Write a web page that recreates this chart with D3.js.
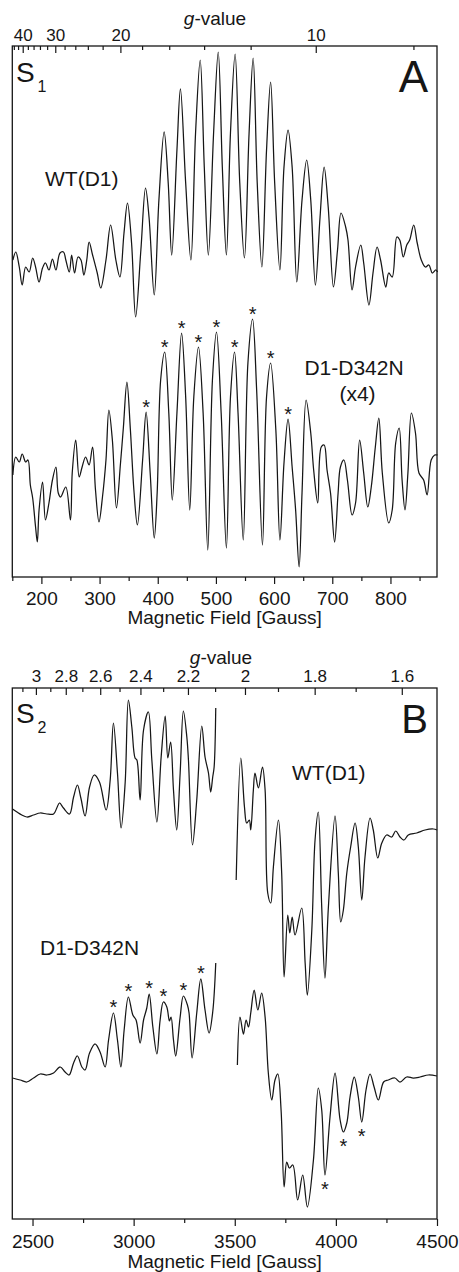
<!DOCTYPE html>
<html>
<head>
<meta charset="utf-8">
<script src="https://cdn.jsdelivr.net/npm/d3@7"></script>
<style>
  body { margin: 0; background: #fff; }
  svg { display: block; font-family: "Liberation Sans", Arial, Helvetica, sans-serif; }
</style>
</head>
<body>
<svg id="chart" width="459" height="1272"></svg>
<script>
// ---- Panel A (S1 state, low field) : [field (G), signal (a.u.)]
const wtA = [
    [151, 7], [156, 15], [162, 0], [167, -18], [173, 0], [179, -5], [185, 9], [190, 0], [196, -15], [202, -1],
    [207, 4], [213, -3], [219, 8], [225, -3], [232, 14], [238, 15], [242, 7], [248, -5], [252, 12], [257, -6],
    [263, 10], [268, 7], [273, -8], [278, 7], [282, 25], [288, 12], [296, -6], [302, -21], [311, 7], [319, 42],
    [328, 7], [335, -10], [342, 34], [348, 64], [355, 24], [362, -50], [371, 17], [379, 79], [385, 50], [394, -28],
    [402, 67], [411, 135], [418, 84], [424, 12], [433, 117], [439, 178], [448, 84], [457, 7], [465, 134], [473, 207],
    [480, 100], [487, 12], [496, 134], [504, 215], [511, 100], [518, 12], [525, 134], [533, 213], [541, 84], [549, 9],
    [557, 134], [564, 209], [571, 84], [579, 0], [587, 117], [594, 185], [601, 84], [610, -3], [617, 100], [624, 137],
    [631, 100], [639, -15], [648, 67], [656, 107], [663, 67], [671, -18], [679, 50], [686, 100], [693, 60], [702, -20],
    [709, 17], [715, 54], [723, 40], [727, 27], [734, -23], [740, 0], [749, 22], [754, 4], [763, -38], [770, -6],
    [777, 20], [783, 7], [792, -20], [797, -6], [803, -10], [811, 30], [816, 27], [822, 10], [828, 22], [833, 27],
    [840, 42], [846, 24], [853, 7], [860, 0], [866, 2], [872, -6], [878, -3], [881, -5]
];

const mutA = [
    [151, -5], [156, 13], [162, 8], [167, 16], [173, 8], [177, 10], [181, -15], [185, -28], [190, -57], [193, -72],
    [196, -40], [202, -12], [207, -50], [213, -33], [219, -10], [225, 3], [229, -23], [233, -27], [242, -17], [250, -50],
    [253, -3], [259, 30], [265, -7], [270, 3], [276, 13], [282, 5], [288, 23], [293, -20], [299, -52], [305, -27],
    [311, 10], [316, 60], [322, 30], [329, -38], [336, 7], [341, 43], [347, 88], [353, 40], [359, -20], [365, -55],
    [374, 10], [380, 58], [387, -3], [394, -68], [399, -23], [405, 90], [412, 118], [419, 57], [425, -30], [433, 57],
    [441, 137], [448, 73], [455, -40], [462, 73], [470, 123], [478, 57], [486, -80], [494, 90], [501, 138], [509, 57],
    [518, -78], [525, 73], [532, 118], [538, 57], [547, -70], [555, 107], [563, 151], [570, 80], [580, -75], [587, 73],
    [594, 107], [603, 40], [610, -70], [617, 7], [624, 51], [631, 3], [637, -40], [643, -97], [648, -23], [655, 70],
    [663, 37], [668, 0], [675, -33], [681, 23], [686, 25], [691, 0], [697, -23], [704, -72], [710, -23], [714, 3],
    [720, 10], [726, -10], [734, -45], [740, -33], [747, 30], [754, -3], [761, -37], [767, -17], [774, 23], [780, 52],
    [786, -3], [797, -53], [803, -40], [809, 27], [815, 42], [820, -10], [825, -40], [830, -3], [836, 57], [843, 37],
    [849, -3], [857, -10], [863, -25], [870, 10], [876, 15], [881, 15]
];

const starsA = [380, 412, 441, 470, 501, 532, 563, 594, 624];

// ---- Panel B (S2 state, g~2 region); each trace is split around the removed Y_D* signal
const wtBLow = [
    [2401, 6], [2423, 3], [2447, 0], [2472, -2], [2505, 0], [2538, 2], [2571, 1], [2604, 1], [2620, 7], [2633, 12],
    [2653, 7], [2683, 1], [2703, 18], [2722, 30], [2739, 17], [2760, -1], [2782, 28], [2805, 40], [2831, 33], [2864, 5],
    [2884, 35], [2900, 92], [2920, 42], [2938, -13], [2958, 32], [2974, 115], [2991, 88], [3007, 57], [3016, 55], [3032, 15],
    [3049, 85], [3073, 103], [3090, 55], [3115, -7], [3136, 58], [3156, 99], [3169, 57], [3183, 73], [3197, 25], [3213, -15],
    [3230, 42], [3246, 104], [3263, 78], [3271, 55], [3291, -30], [3312, 15], [3337, 89], [3353, 58], [3370, 42], [3381, 23],
    [3391, 38], [3398, 48], [3406, 107]
];

const wtBHigh = [
    [3507, -65], [3530, 57], [3548, 8], [3559, -8], [3572, -5], [3579, -15], [3592, 25], [3600, 42], [3617, 27], [3637, 48],
    [3650, 25], [3663, -78], [3678, -88], [3691, -52], [3716, -5], [3732, -58], [3744, -162], [3762, -100], [3772, -118], [3784, -102],
    [3798, -120], [3831, -93], [3848, -148], [3859, -180], [3881, -115], [3897, -25], [3913, 3], [3930, -92], [3946, -163], [3963, -92],
    [3996, -1], [4012, -58], [4024, -107], [4037, -95], [4054, -58], [4073, -32], [4095, -8], [4111, -32], [4128, -85], [4144, -42],
    [4169, -3], [4185, -15], [4207, -43], [4227, -28], [4251, -20], [4276, -22], [4296, -16], [4317, -22], [4337, -25], [4358, -20],
    [4400, -18], [4441, -15], [4482, -14], [4500, -15]
];

const mutBLow = [
    [2401, 2], [2439, 0], [2472, -2], [2505, 2], [2538, 6], [2571, 5], [2604, 7], [2637, 13], [2661, 8], [2681, 5],
    [2703, 17], [2722, 24], [2744, 13], [2760, 10], [2782, 27], [2810, 36], [2834, 28], [2859, 13], [2876, 40], [2900, 67],
    [2920, 40], [2937, 13], [2953, 50], [2974, 83], [2996, 65], [3012, 60], [3032, 37], [3049, 60], [3065, 72], [3077, 86],
    [3095, 53], [3115, 26], [3131, 60], [3147, 78], [3164, 73], [3177, 59], [3185, 63], [3197, 40], [3208, 24], [3230, 63],
    [3246, 84], [3266, 75], [3274, 67], [3289, 22], [3312, 67], [3332, 101], [3353, 70], [3373, 47], [3391, 68], [3406, 117]
];

const mutBHigh = [
    [3513, 15], [3526, 63], [3543, 46], [3556, 60], [3568, 53], [3579, 67], [3596, 90], [3614, 70], [3633, 87], [3650, 63],
    [3666, 7], [3683, -20], [3699, 0], [3713, 6], [3729, -30], [3744, -107], [3757, -82], [3770, -88], [3787, -85], [3811, -120],
    [3836, -95], [3859, -127], [3889, -80], [3913, -8], [3930, -30], [3946, -95], [3971, -37], [3996, 7], [4021, -40], [4037, -52],
    [4054, -43], [4070, -17], [4091, 3], [4111, -17], [4128, -42], [4149, -10], [4169, 6], [4189, -7], [4210, -20], [4236, -2],
    [4259, 0], [4292, 2], [4317, -2], [4350, 3], [4383, 2], [4416, 3], [4457, 5], [4500, 4]
];

const starsBUp = [2900, 2974, 3077, 3147, 3246, 3332];
const starsBDown = [3946, 4037, 4128];

// ---- Axis ticks
const fieldMajorA = [200, 300, 400, 500, 600, 700, 800];
const fieldMinorA = [150, 250, 350, 450, 550, 650, 750, 850];
const gMajorA = [40, 30, 20, 10];
const gMinorA = [44, 42, 38, 36, 34, 32, 28, 26, 24, 22, 18, 16, 14, 12, 8];

const fieldMajorB = [2500, 3000, 3500, 4000, 4500];
const fieldMinorB = [2750, 3250, 3750, 4250];
const gMajorB = [3, 2.8, 2.6, 2.4, 2.2, 2, 1.8, 1.6];
const gMinorB = [3.1, 2.9, 2.7, 2.5, 2.3, 2.1, 1.9, 1.7];

const ink = "#161616";
const svg = d3.select("#chart");

function drawPanel(p) {
    const x = d3.scaleLinear().domain(p.xDomain).range([12.3, 437]);
    const y = d3.scaleLinear().domain([0, p.bottom - p.top]).range([p.bottom, p.top]);
    const root = svg.append("g");

    const styleAxis = (g, fs) => {
        g.select(".domain").remove();
        g.selectAll("line").attr("stroke", ink).attr("stroke-width", 1.2);
        g.selectAll("text").attr("fill", ink).style("font-size", fs + "px").attr("font-family", null);
    };

    // bottom field axis
    const bottomAxis = root.append("g").attr("transform", `translate(0,${p.bottom})`);
    bottomAxis.append("g").call(d3.axisBottom(x).tickValues(p.fieldMinor).tickSize(4).tickFormat(""))
        .call(g => styleAxis(g, 19));
    bottomAxis.append("g").call(d3.axisBottom(x).tickValues(p.fieldMajor).tickSize(7).tickPadding(p.bottomPad)
        .tickFormat(d3.format("d")))
        .call(g => styleAxis(g, 19));

    // top g-value axis, linear in 1/g
    const gScale = d3.scaleLinear().domain([0, 1]).range([x(p.gCal.b), x(p.gCal.b + p.gCal.k)]);
    const topAxis = root.append("g").attr("transform", `translate(0,${p.top})`);
    topAxis.append("g").call(d3.axisTop(gScale).tickValues(p.gMinor.map(g => 1 / g)).tickSize(-4).tickFormat(""))
        .call(g => styleAxis(g, 17));
    topAxis.append("g").call(d3.axisTop(gScale).tickValues(p.gMajor.map(g => 1 / g)).tickSize(-7).tickPadding(p.topPad)
        .tickFormat(v => String(+(1 / v).toFixed(1))))
        .call(g => styleAxis(g, 17));

    // frame
    root.append("rect")
        .attr("x", x.range()[0]).attr("y", p.top)
        .attr("width", x.range()[1] - x.range()[0]).attr("height", p.bottom - p.top)
        .attr("fill", "none").attr("stroke", ink).attr("stroke-width", 1.3);

    // traces
    const line = offset => d3.line()
        .x(d => x(d[0]))
        .y(d => y(d[1] + offset))
        .curve(d3.curveCatmullRom.alpha(0.5));

    p.series.forEach(s => {
        s.parts.forEach(part => {
            root.append("path")
                .datum(part)
                .attr("fill", "none")
                .attr("stroke", ink)
                .attr("stroke-width", 1.25)
                .attr("stroke-linejoin", "round")
                .attr("d", line(s.offset));
        });
    });

    // asterisks on the marked lines
    p.stars.forEach(st => {
        const all = st.parts.flat();
        st.fields.forEach(f => {
            const pt = d3.least(all, d => Math.abs(d[0] - f));
            const cy = y(pt[1] + st.offset) + st.shift;
            root.append("text")
                .attr("x", x(pt[0]))
                .attr("y", cy + 11)
                .attr("text-anchor", "middle")
                .attr("fill", ink)
                .style("font-size", "20px")
                .text("*");
        });
    });

    // axis titles
    root.append("text")
        .attr("x", 224.6).attr("y", p.titleY)
        .attr("text-anchor", "middle").attr("fill", ink)
        .style("font-size", "19px")
        .text("Magnetic Field [Gauss]");

    const gt = root.append("text")
        .attr("x", p.gLabel[0]).attr("y", p.gLabel[1])
        .attr("text-anchor", "middle").attr("fill", ink)
        .style("font-size", "19px");
    gt.append("tspan").attr("font-style", "italic").text("g");
    gt.append("tspan").text("-value");

    // state and panel letters
    root.append("text").attr("x", 16).attr("y", p.top + p.stateDy)
        .attr("fill", ink).style("font-size", "28px").text("S");
    root.append("text").attr("x", 37.5).attr("y", p.top + p.stateDy + 10)
        .attr("fill", ink).style("font-size", "16px").text(p.stateSub);
    root.append("text").attr("x", 428).attr("y", p.top + p.letterDy)
        .attr("text-anchor", "end").attr("fill", ink)
        .style("font-size", p.letterSize + "px").text(p.letter);

    p.labels.forEach(l => {
        root.append("text")
            .attr("x", l.x).attr("y", l.y)
            .attr("text-anchor", l.anchor || "start")
            .attr("fill", ink)
            .style("font-size", "21px")
            .text(l.text);
    });
}

drawPanel({
    top: 46, bottom: 577,
    xDomain: [150, 880],
    fieldMajor: fieldMajorA, fieldMinor: fieldMinorA,
    gMajor: gMajorA, gMinor: gMinorA,
    gCal: { k: 6716, b: 0 },
    bottomPad: 7.5, topPad: 5.5,
    titleY: 624, gLabel: [215, 25],
    stateSub: "1", stateDy: 36,
    letter: "A", letterDy: 46, letterSize: 44,
    series: [
        { parts: [wtA], offset: 310 },
        { parts: [mutA], offset: 107 }
    ],
    stars: [{ parts: [mutA], offset: 107, fields: starsA, shift: -9 }],
    labels: [
        { text: "WT(D1)", x: 45, y: 185.5 },
        { text: "D1-D342N", x: 354, y: 375, anchor: "middle" },
        { text: "(x4)", x: 357.5, y: 401, anchor: "middle" }
    ]
});

drawPanel({
    top: 688, bottom: 1219,
    xDomain: [2400, 4500],
    fieldMajor: fieldMajorB, fieldMinor: fieldMinorB,
    gMajor: gMajorB, gMinor: gMinorB,
    gCal: { k: 6203, b: 449 },
    bottomPad: 8.5, topPad: 6,
    titleY: 1267.5, gLabel: [221, 664],
    stateSub: "2", stateDy: 35,
    letter: "B", letterDy: 45, letterSize: 40,
    series: [
        { parts: [wtBLow, wtBHigh], offset: 404 },
        { parts: [mutBLow, mutBHigh], offset: 139 }
    ],
    stars: [
        { parts: [mutBLow], offset: 139, fields: starsBUp, shift: -10 },
        { parts: [mutBHigh], offset: 139, fields: starsBDown, shift: 10 }
    ],
    labels: [
        { text: "WT(D1)", x: 292, y: 780 },
        { text: "D1-D342N", x: 40, y: 955 }
    ]
});
</script>
</body>
</html>
